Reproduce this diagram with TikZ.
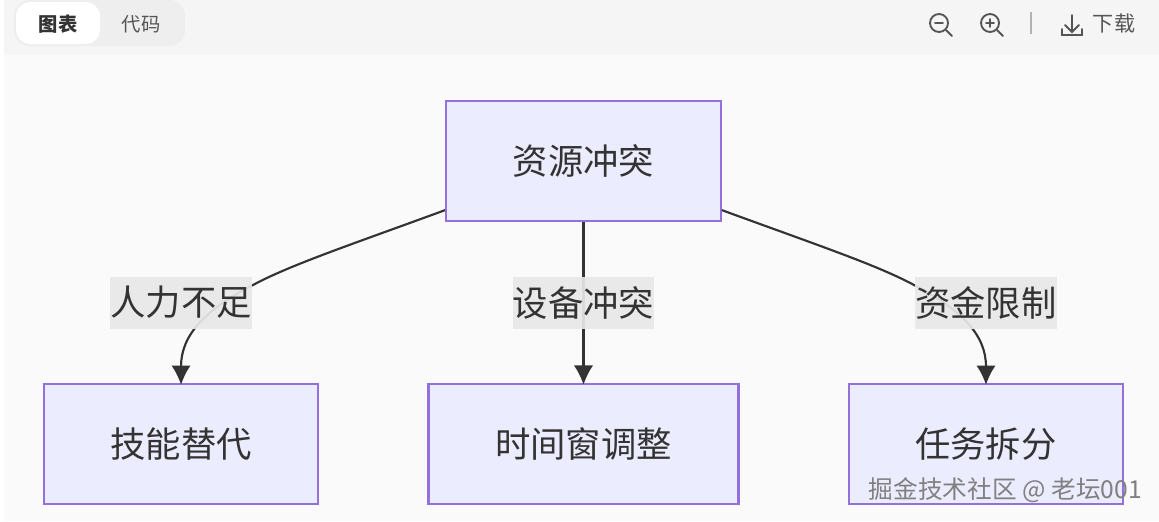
\documentclass[tikz,border=0pt]{standalone}
\usepackage{fontspec}
\setmainfont{Noto Sans CJK SC}
\usetikzlibrary{matrix,arrows.meta}
\definecolor{pagebg}{HTML}{FAFAFA}
\definecolor{barbg}{HTML}{F5F5F5}
\definecolor{tabbg}{HTML}{EEEEEE}
\definecolor{boxfill}{HTML}{ECECFF}
\definecolor{boxline}{HTML}{9370DB}
\definecolor{inkdark}{HTML}{333333}
\definecolor{labelbg}{HTML}{E8E8E8}
\definecolor{iconink}{HTML}{555555}
\tikzset{
	flowline/.style={draw=inkdark,line width=1.6pt},
	flowarrow/.style={flowline,shorten >=-1.5pt,-{Latex[length=14.5pt,width=14.5pt]}},
	edgelabel/.style={fill=labelbg,fill opacity=0.92,text opacity=1,text=inkdark,font=\fontsize{26.5}{30}\selectfont,inner sep=0pt,minimum width=105.5pt,minimum height=39pt},
	toolicon/.style={draw=iconink,line width=1.4pt,line cap=round},
	tooltext/.style={font=\fontsize{14.5}{18}\selectfont,text=iconink,inner sep=0pt}
}
\begin{document}
\begin{tikzpicture}[x=0.75pt,y=-0.75pt]
	\useasboundingbox (0,0) rectangle (1159,521);
	% page and toolbar
	\fill[pagebg] (0,0) rectangle (1159,521);
	\fill[barbg] (4,0) rectangle (1159,55);
	\fill[white] (0,0) rectangle (4,521);
	\fill[tabbg,rounded corners=12pt] (14,0) rectangle (185,46);
	\fill[white,rounded corners=11pt] (16,2) rectangle (100,44);
	\node[tooltext,text=inkdark,font=\fontsize{14.5}{18}\selectfont\bfseries] (tabchart) at (58,24) {图表};
	\node[tooltext] (tabcode) at (141,24) {代码};
	\node[tooltext,font=\fontsize{15.8}{18}\selectfont] (download) at (1114,24) {下载};
	% zoom icons
	\foreach \X/\N in {939/0,990/1}
	{\draw[toolicon] (\X,23) circle (9);
		\draw[toolicon] (\X+7,30) -- (\X+13,36);
		\draw[toolicon] (\X-4,23) -- (\X+4,23);
		\ifnum\N=1
		\draw[toolicon] (\X,19) -- (\X,27);
		\fi}
	\draw[gray!60,line width=1pt] (1031,12) -- (1031,34);
	\draw[toolicon] (1072,15) -- (1072,31);
	\draw[toolicon] (1065,25) -- (1072,32) -- (1079,25);
	\draw[toolicon] (1062,29) -- (1062,35) -- (1082,35) -- (1082,29);
	% flow chart
	\matrix[matrix of nodes,column sep=81pt,row sep=120.5pt,
	cells={nodes={rectangle,draw=boxline,fill=boxfill,line width=1.6pt,text=inkdark,minimum height=90pt,inner sep=0pt,font=\fontsize{26.5}{30}\selectfont}},
	column 1/.style={nodes={minimum width=206pt}},
	column 2/.style={nodes={minimum width=206pt}},
	column 3/.style={nodes={minimum width=206pt}},
	row 2 column 2/.style={nodes={minimum width=232.5pt}},
	ampersand replacement=\&] (m) at (583.5,302.5) {
		\& 资源冲突 \& \\
		技能替代 \& 时间窗调整 \& 任务拆分 \\
	};
	\coordinate (leftout) at ([yshift=9pt]m-1-2.south west);
	\coordinate (rightout) at ([yshift=9pt]m-1-2.south east);
	\draw[flowarrow] (leftout) .. controls (350,245) and (290,265) .. (253,285) .. controls (205,310) and (181,335) .. (m-2-1.north);
	\draw[flowarrow] (m-1-2.south) -- (m-2-2.north);
	\draw[flowarrow] (rightout) .. controls (817,245) and (877,265) .. (914,285) .. controls (962,310) and (986,335) .. (m-2-3.north);
	\node[edgelabel] (lack) at (m-2-1|-0,302.5) {人力不足};
	\node[edgelabel] (clash) at (m-2-2|-0,302.5) {设备冲突};
	\node[edgelabel] (funds) at (m-2-3|-0,302.5) {资金限制};
	% watermark
	\node[font=\fontsize{18.5}{22}\selectfont,text=gray,inner sep=0pt,anchor=east] (mark) at (1142,490) {掘金技术社区 @ 老坛001};
\end{tikzpicture}
\end{document}
